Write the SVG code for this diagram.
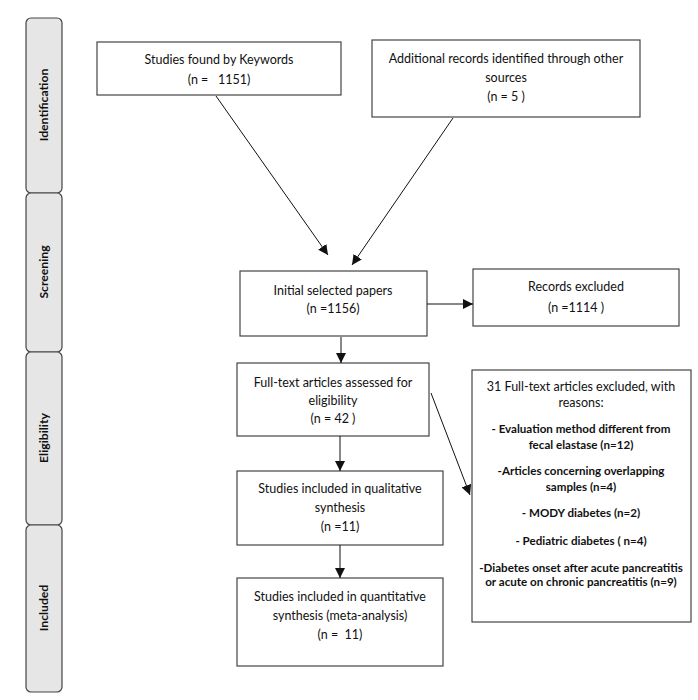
<svg xmlns="http://www.w3.org/2000/svg" width="698" height="700" viewBox="0 0 698 700">
<defs>
<style>
.box{fill:#fff;stroke:#444;stroke-width:1.2}
.phase{fill:#e6e6e6;stroke:#444;stroke-width:1.2}
text{font-family:Lato,"Liberation Sans",sans-serif;font-size:12.5px;fill:#111;text-anchor:middle}
.b{font-weight:bold;font-size:11.6px}
.ph{font-weight:bold;font-size:12.2px}
.c line{stroke:#111;stroke-width:1;marker-end:url(#ah)}
</style>
<marker id="ah" viewBox="0 0 10 10" refX="10" refY="5" markerWidth="10" markerHeight="10" markerUnits="userSpaceOnUse" orient="auto">
<path d="M0,0 L10,5 L0,10 z" fill="#111"/>
</marker>
</defs>
<rect width="698" height="700" fill="#fff"/>
<g id="phase-identification"><rect class="phase" x="26" y="18" width="36" height="175" rx="5"/><text class="ph" transform="translate(48,105) rotate(-90)">Identification</text></g>
<g id="phase-screening"><rect class="phase" x="26" y="193" width="36" height="159" rx="5"/><text class="ph" transform="translate(48,272) rotate(-90)">Screening</text></g>
<g id="phase-eligibility"><rect class="phase" x="26" y="352" width="36" height="173" rx="5"/><text class="ph" transform="translate(48,438) rotate(-90)">Eligibility</text></g>
<g id="phase-included"><rect class="phase" x="26" y="525" width="36" height="167" rx="5"/><text class="ph" transform="translate(48,608) rotate(-90)">Included</text></g>
<g id="keywords"><rect class="box" x="97" y="42" width="244" height="53"/><text x="219" y="64">Studies found by Keywords</text><text x="219" y="84" xml:space="preserve">(n =   1151)</text></g>
<g id="additional"><rect class="box" x="372" y="40" width="268" height="77"/><text x="506" y="63">Additional records identified through other</text><text x="506" y="82">sources</text><text x="506" y="101">(n = 5 )</text></g>
<g id="initial"><rect class="box" x="240" y="271" width="187" height="65"/><text x="333" y="295">Initial selected papers</text><text x="333" y="313">(n =1156)</text></g>
<g id="records-excluded"><rect class="box" x="473" y="269" width="206" height="57"/><text x="576" y="291">Records excluded</text><text x="576" y="312">(n =1114 )</text></g>
<g id="fulltext"><rect class="box" x="237" y="363" width="192" height="73"/><text x="333" y="387">Full-text articles assessed for</text><text x="333" y="405">eligibility</text><text x="333" y="423">(n = 42 )</text></g>
<g id="excluded-reasons"><rect class="box" x="472" y="370" width="219" height="252"/>
<text x="581" y="391">31 Full-text articles excluded, with</text>
<text x="581" y="407">reasons:</text>
<text class="b" x="581" y="433">- Evaluation method different from</text>
<text class="b" x="581" y="449">fecal elastase (n=12)</text>
<text class="b" x="581" y="475">-Articles concerning overlapping</text>
<text class="b" x="581" y="491">samples (n=4)</text>
<text class="b" x="581" y="517">- MODY diabetes (n=2)</text>
<text class="b" x="581" y="545">- Pediatric diabetes ( n=4)</text>
<text class="b" x="581" y="572">-Diabetes onset after acute pancreatitis</text>
<text class="b" x="581" y="586">or acute on chronic pancreatitis (n=9)</text>
</g>
<g id="qualitative"><rect class="box" x="237" y="471" width="206" height="74"/><text x="340" y="493">Studies included in qualitative</text><text x="340" y="512">synthesis</text><text x="340" y="531">(n =11)</text></g>
<g id="quantitative"><rect class="box" x="237" y="578" width="206" height="88"/><text x="340" y="601">Studies included in quantitative</text><text x="340" y="620">synthesis (meta-analysis)</text><text x="340" y="639" xml:space="preserve">(n =  11)</text></g>
<g id="connectors" class="c">
<line x1="216" y1="96" x2="328" y2="255"/>
<line x1="453" y1="118" x2="352" y2="265"/>
<line x1="427" y1="304" x2="473" y2="304"/>
<line x1="341" y1="337" x2="341" y2="363"/>
<line x1="431" y1="393" x2="470" y2="495"/>
<line x1="340" y1="436" x2="340" y2="471"/>
<line x1="340" y1="545" x2="340" y2="578"/>
</g>
</svg>
